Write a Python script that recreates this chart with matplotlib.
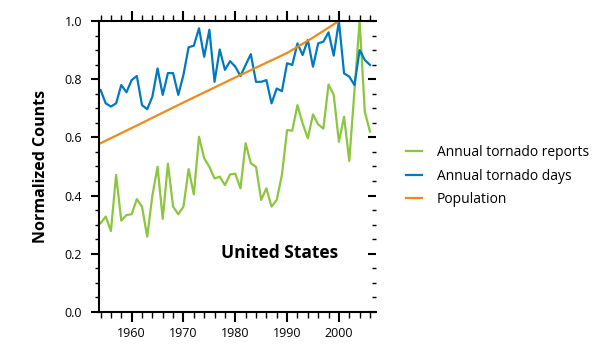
import matplotlib
matplotlib.use("Agg")
import matplotlib.pyplot as plt
from matplotlib.ticker import MultipleLocator

plt.rcParams['font.family'] = ['Open Sans', 'DejaVu Sans']

# annual series, 1954-2006
years = list(range(1954, 2007))

tornado_reports = [
    0.305, 0.328, 0.278, 0.471, 0.314, 0.333, 0.336, 0.388, 0.362, 0.259,
    0.400, 0.499, 0.320, 0.510, 0.362, 0.336, 0.362, 0.491, 0.404, 0.602,
    0.528, 0.499, 0.459, 0.465, 0.436, 0.473, 0.475, 0.425, 0.580, 0.511,
    0.499, 0.385, 0.425, 0.362, 0.385, 0.471, 0.625, 0.623, 0.711, 0.648,
    0.597, 0.679, 0.645, 0.630, 0.782, 0.746, 0.585, 0.671, 0.519, 0.760,
    1.000, 0.688, 0.620,
]

tornado_days = [
    0.763, 0.717, 0.706, 0.717, 0.780, 0.755, 0.797, 0.811, 0.711, 0.697,
    0.740, 0.837, 0.746, 0.821, 0.821, 0.746, 0.815, 0.910, 0.915, 0.975,
    0.877, 0.970, 0.791, 0.902, 0.832, 0.862, 0.843, 0.811, 0.849, 0.886,
    0.791, 0.791, 0.797, 0.717, 0.768, 0.759, 0.855, 0.849, 0.923, 0.883,
    0.935, 0.843, 0.923, 0.929, 0.961, 0.881, 1.000, 0.820, 0.809, 0.780,
    0.900, 0.866, 0.849,
]

pop_years = [1954, 1960, 1965, 1970, 1975, 1980, 1985, 1990, 1995, 2000]
population = [0.580, 0.632, 0.676, 0.720, 0.763, 0.806, 0.848, 0.890, 0.943, 1.000]

green = "#8CC63F"
blue = "#0079C1"
orange = "#EC8B1D"

fig = plt.figure(figsize=(6, 3.5), dpi=100)
ax = fig.add_axes([0.165, 0.1086, 0.462, 0.8314])

ax.plot(years, tornado_reports, color=green, lw=1.6, label="Annual tornado reports")
ax.plot(years, tornado_days, color=blue, lw=1.6, label="Annual tornado days")
ax.plot(pop_years, population, color=orange, lw=1.6, label="Population")

ax.set_xlim(1953.7, 2007.2)
ax.set_ylim(0, 1)
ax.xaxis.set_major_locator(MultipleLocator(10))
ax.xaxis.set_minor_locator(MultipleLocator(2))
ax.yaxis.set_major_locator(MultipleLocator(0.2))
ax.yaxis.set_minor_locator(MultipleLocator(0.05))
ax.yaxis.set_major_formatter(plt.FormatStrFormatter("%.1f"))

ax.spines['right'].set_visible(False)
for s in ['left', 'bottom', 'top']:
    ax.spines[s].set_linewidth(1.5)

ax.tick_params(axis='x', which='both', top=True, direction='out', labelsize=9, width=1)
ax.tick_params(axis='x', which='major', length=7, width=1.5)
ax.tick_params(axis='x', which='minor', length=4)
ax.tick_params(axis='y', which='both', right=True, direction='out', labelsize=9, width=1, pad=6)
ax.tick_params(axis='y', which='major', length=6, width=1.5)
ax.tick_params(axis='y', which='minor', length=3)
for t in ax.yaxis.get_major_ticks():
    t.tick2line.set_marker(0)
    t.tick2line.set_markersize(6)
for t in ax.yaxis.get_minor_ticks():
    t.tick2line.set_marker(0)
    t.tick2line.set_markersize(3)
    t.tick2line.set_color("#555555")

ax.set_ylabel("Normalized Counts", fontsize=11.5, fontweight='bold', labelpad=11)
ax.text(1988.6, 0.203, "United States", fontsize=12.5, fontweight='bold',
        ha='center', va='center')

fig.legend(loc='center left', bbox_to_anchor=(0.676, 0.497), frameon=False,
           fontsize=10, handlelength=1.15, handletextpad=1.1, labelspacing=0.6,
           borderpad=0, borderaxespad=0)

fig.savefig("out.png", dpi=100)
